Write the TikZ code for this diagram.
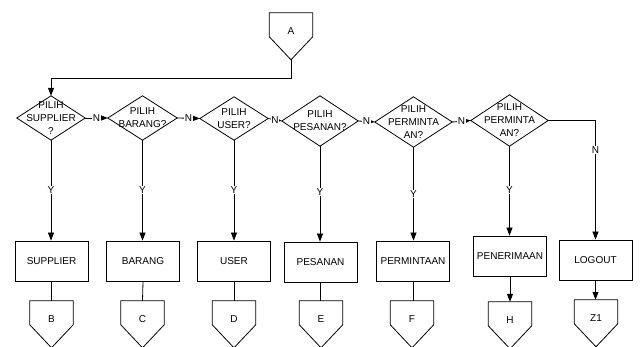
\documentclass[tikz,border=0pt]{standalone}
\usepackage{fontspec}
\setmainfont{Liberation Sans}
\usetikzlibrary{arrows.meta,calc}
\tikzset{
  base/.style={font=\fontsize{10}{13}\selectfont, inner sep=0pt, align=center},
  dbox/.style={base, minimum width=#1},
  procbox/.style={base, draw, line width=0.8pt, minimum width=73pt, minimum height=40pt},
  opc/.style={base, minimum width=43pt, minimum height=36pt},
  conn/.style={line width=0.8pt},
  arr/.style={conn, -{Triangle[length=8pt,width=6pt]}},
  lbl/.style={base, fill=white, inner sep=0.5pt}
}
\newcommand{\mydiamond}[1]{\draw[conn] (#1.west) -- (#1.north) -- (#1.east) -- (#1.south) -- cycle;}
\newcommand{\myopc}[1]{\draw[conn] (#1.north west) -- (#1.north east) -- ([yshift=-24pt]#1.north east) -- ([yshift=-47pt]#1.north) -- ([yshift=-24pt]#1.north west) -- cycle;}
\begin{document}
\begin{tikzpicture}[x=1pt,y=-1pt]
\useasboundingbox (0,0) rectangle (641,347);
% top connector
\node[opc] (A) at (291,31) {A};
\myopc{A}
\coordinate (Atip) at ([yshift=-47pt]A.north);
% diamonds
\node[dbox=68pt, minimum height=44pt] (d1) at (51,118) {PILIH\\SUPPLIER\\?};
\node[dbox=69pt, minimum height=44pt] (d2) at (142.5,118) {PILIH\\BARANG?};
\node[dbox=68pt, minimum height=43pt] (d3) at (234,118.5) {PILIH\\USER?};
\node[dbox=76pt, minimum height=50pt] (d4) at (320,121) {PILIH\\PESANAN?};
\node[dbox=77pt, minimum height=50pt] (d5) at (413.5,122) {PILIH\\PERMINTA\\AN?};
\node[dbox=77pt, minimum height=51pt] (d6) at (509.5,120.5) {PILIH\\PERMINTA\\AN?};
\foreach \d in {d1,d2,d3,d4,d5,d6}{\mydiamond{\d}}
% process boxes
\node[procbox] (b1) at (51.5,261) {SUPPLIER};
\node[procbox] (b2) at (143,261) {BARANG};
\node[procbox] (b3) at (234,261) {USER};
\node[procbox] (b4) at (320.5,262) {PESANAN};
\node[procbox] (b5) at (413,261) {PERMINTAAN};
\node[procbox] (b6) at (510,256) {PENERIMAAN};
\node[procbox] (b7) at (595.5,260) {LOGOUT};
% bottom connectors
\node[opc] (oB) at (51.5,319) {B};
\node[opc] (oC) at (142.5,319) {C};
\node[opc] (oD) at (234,319) {D};
\node[opc] (oE) at (321,319) {E};
\node[opc] (oF) at (412,319) {F};
\node[opc] (oH) at (510,320) {H};
\node[opc] (oZ) at (596,318) {Z1};
\foreach \o in {oB,oC,oD,oE,oF,oH,oZ}{\myopc{\o}}
% connectors
\draw[arr] (Atip) -- ++(0,19) -| (d1.north);
\foreach \a/\b in {d1/d2,d2/d3,d3/d4,d4/d5,d5/d6}{
  \draw[arr] (\a.east) -- node[lbl]{N} (\b.west);
}
\foreach \d/\b in {d1/b1,d2/b2,d3/b3,d4/b4,d5/b5,d6/b6}{
  \draw[arr] (\d.south) -- (\d.south |- \b.north);
}
\node[lbl] at (51,190) {Y};
\node[lbl] at (142.5,190) {Y};
\node[lbl] at (234,190) {Y};
\node[lbl] at (320,192) {Y};
\node[lbl] at (413.5,194) {Y};
\node[lbl] at (509.5,190) {Y};
\draw[arr] (d6.east) -- (595.5,120.5) -- node[lbl, pos=0.25]{N} (b7.north);
\draw[conn] (b1.south) -- (oB.north);
\draw[conn] (b2.south) -- (oC.north);
\draw[conn] (b3.south) -- (oD.north);
\draw[conn] (b4.south) -- (b4.south |- oE.north);
\draw[conn] (b5.south) -- (b5.south |- oF.north);
\draw[arr] (b6.south) -- (oH.north);
\draw[arr] (b7.south) -- (b7.south |- oZ.north);
\end{tikzpicture}
\end{document}
